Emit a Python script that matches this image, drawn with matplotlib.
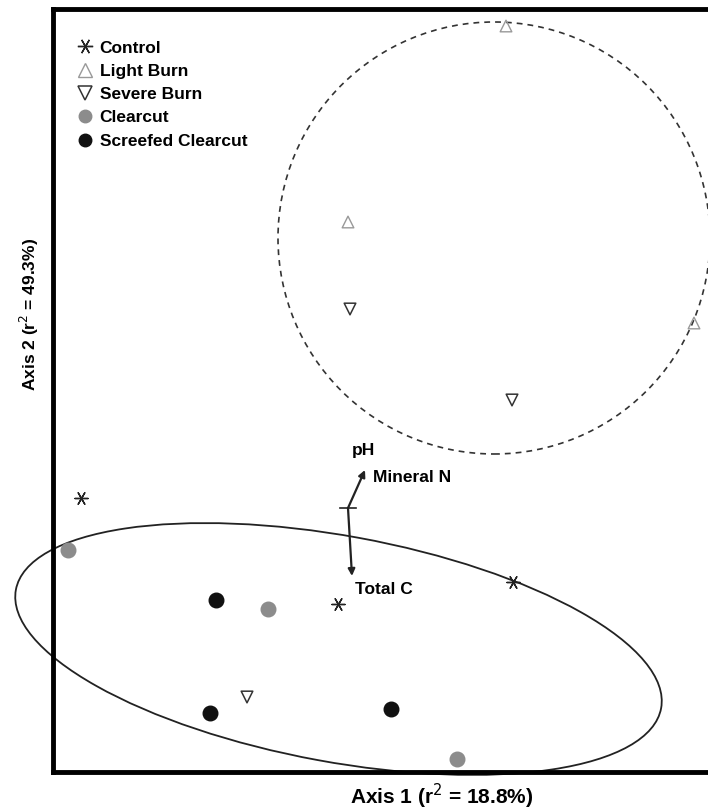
import numpy as np
import matplotlib.pyplot as plt
from matplotlib.patches import Ellipse, Circle
from matplotlib.lines import Line2D

plt.rcParams['font.family'] = ['Liberation Sans', 'DejaVu Sans']

# ordination scores (arbitrary units)
control_x = [0.28, 2.85, 4.60]
control_y = [2.74, 1.68, 1.90]
light_x = [4.53, 2.95, 6.41]
light_y = [7.46, 5.50, 4.49]
severe_x = [2.97, 4.59, 1.94]
severe_y = [4.63, 3.72, 0.75]
clear_x = [0.15, 2.15, 4.04]
clear_y = [2.22, 1.63, 0.13]
screef_x = [1.63, 1.57, 3.38]
screef_y = [1.72, 0.59, 0.63]

# joint-plot vectors
vec_origin = (2.95, 2.64)
vec_names = ["Mineral N", "Total C"]
vec_dx = [0.17, 0.04]
vec_dy = [0.38, -0.68]

# group outlines
ell_center = (2.855, 1.23)
ell_width = 6.56
ell_height = 2.26
ell_angle = -10.4
circ_center = (4.41, 5.34)
circ_radius = 2.16

fig = plt.figure(figsize=(7.08, 8.10), dpi=100)
ax = fig.add_axes([53 / 708, 1 - 772 / 810, 670 / 708, 763 / 810])
ax.set_xlim(0, 6.70)
ax.set_ylim(0, 7.63)
ax.set_xticks([])
ax.set_yticks([])
for s in ax.spines.values():
    s.set_linewidth(3.5)

ax.add_patch(Ellipse(ell_center, ell_width, ell_height, angle=ell_angle,
                     fill=False, ec='#222222', lw=1.3, clip_on=False))
ax.add_patch(Circle(circ_center, circ_radius, fill=False, ec='#333333',
                    lw=1.2, ls=(0, (3.5, 3)), clip_on=False))

ax.scatter(control_x, control_y, marker=(6, 2, 90), s=90, c='#222222', lw=1.0, zorder=3)
ax.scatter(light_x, light_y, marker='^', s=70, facecolors='none', edgecolors='#999999', lw=1.0, zorder=3)
ax.scatter(severe_x, severe_y, marker='v', s=70, facecolors='none', edgecolors='#333333', lw=1.1, zorder=3)
ax.scatter(clear_x, clear_y, marker='o', s=110, c='#8c8c8c', zorder=3)
ax.scatter(screef_x, screef_y, marker='o', s=110, c='#111111', zorder=3)

# vectors
ox, oy = vec_origin
ax.plot([ox - 0.08, ox + 0.08], [oy, oy], color='#222222', lw=1.2)
for dx, dy in zip(vec_dx, vec_dy):
    ax.annotate('', xy=(ox + dx, oy + dy), xytext=(ox, oy),
                arrowprops=dict(arrowstyle='-|>', color='#222222', lw=1.6,
                                mutation_scale=10, shrinkA=0, shrinkB=0))
vfont = dict(fontsize=12.5, fontweight='bold', ha='left', va='center')
ax.text(ox + 0.04, oy + 0.58, 'pH', **vfont)
ax.text(ox + 0.25, oy + 0.31, vec_names[0], **vfont)
ax.text(ox + 0.07, oy - 0.82, vec_names[1], **vfont)

handles = [
    Line2D([], [], marker=(6, 2, 90), ls='none', color='#222222', ms=11, mew=1.0),
    Line2D([], [], marker='^', ls='none', mfc='none', mec='#999999', ms=10, mew=1.0),
    Line2D([], [], marker='v', ls='none', mfc='none', mec='#333333', ms=10, mew=1.1),
    Line2D([], [], marker='o', ls='none', color='#8c8c8c', ms=9),
    Line2D([], [], marker='o', ls='none', color='#111111', ms=9),
]
labels = ["Control", "Light Burn", "Severe Burn", "Clearcut", "Screefed Clearcut"]
ax.legend(handles, labels, loc='upper left', bbox_to_anchor=(0.027, 0.968),
          frameon=False, handlelength=0.8, handletextpad=0.45, labelspacing=0.47,
          borderaxespad=0, prop=dict(size=12.5, weight='bold'))

fig.text(442 / 708, 1 - 796 / 810, 'Axis 1 (r$^2$ = 18.8%)', fontsize=15,
         fontweight='bold', ha='center', va='center')
fig.text(29 / 708, 1 - 314 / 810, 'Axis 2 (r$^2$ = 49.3%)', fontsize=12.5,
         fontweight='bold', ha='center', va='center', rotation=90)

fig.savefig('out.png', dpi=100)
